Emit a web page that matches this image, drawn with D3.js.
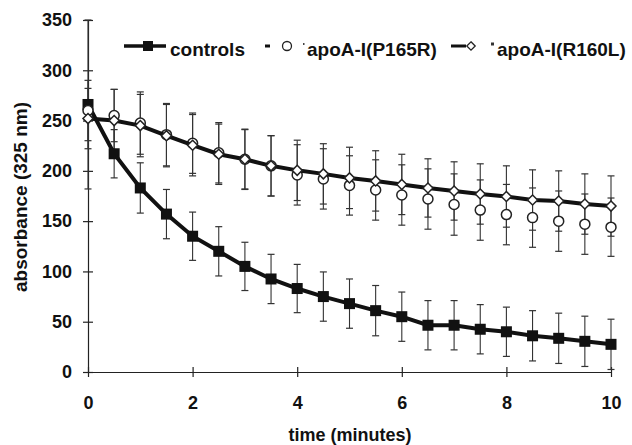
<!DOCTYPE html>
<html>
<head>
<meta charset="utf-8">
<script src="https://cdn.jsdelivr.net/npm/d3@7"></script>
<style>
	body { margin: 0; background: #fff; }
	svg { display: block; font-family: "Liberation Sans", Arial, sans-serif; font-weight: bold; }
</style>
</head>
<body>
<svg id="chart"></svg>
<script>
// time points (minutes)
var times = [0, 0.5, 1, 1.5, 2, 2.5, 3, 3.5, 4, 4.5, 5, 5.5, 6, 6.5, 7, 7.5, 8, 8.5, 9, 9.5, 10];

var controls    = [266, 217, 183, 157, 135, 120, 105, 92.5, 83, 75, 68, 61, 55, 46.5, 46.5, 42.5, 40, 36, 33.5, 30.5, 27.5];
var controlsErr = [84, 24, 25, 24.5, 24, 24.5, 24, 24.5, 24, 24.5, 24.5, 25, 24.5, 24.5, 24.5, 24.5, 24.5, 25, 25, 25, 25];

var p165r    = [260, 255, 247.5, 236, 227.5, 218, 211.5, 205, 196, 192, 185.5, 181, 176, 172, 166.5, 161, 156.5, 153.5, 150, 147, 144];
var p165rErr = [30, 26, 31, 31, 30, 30, 30, 30, 30, 30, 29.5, 30, 30, 30, 30.5, 30, 30, 29.5, 30, 30, 29];

var r160l    = [252, 250, 245, 235, 225.5, 216.5, 211.5, 205, 200.5, 197, 193, 190, 186.5, 183, 180, 177, 174.5, 171, 170, 167, 165];
var r160lErr = [30, 31, 31, 31, 30.5, 30, 29.5, 30, 30, 30, 30.5, 30, 30, 29, 29, 30, 30.5, 30, 30, 30, 30];

var xTicks = [0, 2, 4, 6, 8, 10];
var yTicks = [0, 50, 100, 150, 200, 250, 300, 350];

var width = 632, height = 445;
var svg = d3.select("#chart").attr("width", width).attr("height", height);

var xScale = d3.scaleLinear().domain([0, 10]).range([88, 611]);
var yScale = d3.scaleLinear().domain([0, 350]).range([372, 20]);

// axes
var xAxis = d3.axisBottom(xScale).tickValues(xTicks).tickFormat(d3.format("d"))
	.tickSizeInner(5).tickSizeOuter(0).tickPadding(19);
var yAxis = d3.axisLeft(yScale).tickValues(yTicks).tickFormat(d3.format("d"))
	.tickSizeInner(5).tickSizeOuter(0).tickPadding(11);

var xAxisG = svg.append("g").attr("transform", "translate(0," + yScale(0) + ")").call(xAxis);
xAxisG.selectAll(".tick line").attr("y1", -5);
var yAxisG = svg.append("g").attr("transform", "translate(" + xScale(0) + ",0)").call(yAxis);
yAxisG.selectAll(".tick line").attr("x1", 5);

[xAxisG, yAxisG].forEach(function(g) {
	g.select(".domain").attr("stroke", "#222").attr("stroke-width", 1.2);
	g.selectAll(".tick line").attr("stroke", "#222").attr("stroke-width", 1.2);
	g.selectAll(".tick text")
		.attr("fill", "#111")
		.style("font-size", "18px")
		.style("font-weight", "bold")
		.style("font-family", "'Liberation Sans', Arial, sans-serif");
});

svg.append("text")
	.attr("x", 350).attr("y", 441)
	.attr("text-anchor", "middle")
	.attr("fill", "#111")
	.style("font-size", "18px")
	.text("time (minutes)");

svg.append("text")
	.attr("transform", "translate(27,197) rotate(-90)")
	.attr("text-anchor", "middle")
	.attr("fill", "#111")
	.style("font-size", "19px")
	.text("absorbance (325 nm)");

// error bars
function drawErrors(values, errs) {
	var g = svg.append("g");
	var capW = 3.5;
	times.forEach(function(t, i) {
		var x = xScale(t);
		var y1 = yScale(values[i] + errs[i]), y2 = yScale(values[i] - errs[i]);
		g.append("line").attr("x1", x).attr("x2", x).attr("y1", y1).attr("y2", y2)
			.attr("stroke", "#333").attr("stroke-width", 1.1);
		g.append("line").attr("x1", x - capW).attr("x2", x + capW).attr("y1", y1).attr("y2", y1)
			.attr("stroke", "#333").attr("stroke-width", 1.2);
		g.append("line").attr("x1", x - capW).attr("x2", x + capW).attr("y1", y2).attr("y2", y2)
			.attr("stroke", "#333").attr("stroke-width", 1.2);
	});
}
drawErrors(controls, controlsErr);
drawErrors(p165r, p165rErr);
drawErrors(r160l, r160lErr);

var line = d3.line()
	.x(function(d) { return xScale(d[0]); })
	.y(function(d) { return yScale(d[1]); });

function pairs(values) {
	return times.map(function(t, i) { return [t, values[i]]; });
}

// controls: thick line + filled squares
svg.append("path")
	.datum(pairs(controls))
	.attr("d", line)
	.attr("fill", "none")
	.attr("stroke", "#111")
	.attr("stroke-width", 4);
svg.append("g").selectAll("rect")
	.data(pairs(controls))
	.enter().append("rect")
	.attr("x", function(d) { return xScale(d[0]) - 5.5; })
	.attr("y", function(d) { return yScale(d[1]) - 5.5; })
	.attr("width", 11).attr("height", 11)
	.attr("fill", "#111");

// P165R: open circles, no connecting line
svg.append("g").selectAll("circle")
	.data(pairs(p165r))
	.enter().append("circle")
	.attr("cx", function(d) { return xScale(d[0]); })
	.attr("cy", function(d) { return yScale(d[1]); })
	.attr("r", 5)
	.attr("fill", "#fff")
	.attr("stroke", "#222")
	.attr("stroke-width", 1.5);

// R160L: thick line + open diamonds
svg.append("path")
	.datum(pairs(r160l))
	.attr("d", line)
	.attr("fill", "none")
	.attr("stroke", "#111")
	.attr("stroke-width", 4);
var diamond = d3.symbol().type(d3.symbolDiamond2).size(64);
svg.append("g").selectAll("path")
	.data(pairs(r160l))
	.enter().append("path")
	.attr("d", diamond)
	.attr("transform", function(d) { return "translate(" + xScale(d[0]) + "," + yScale(d[1]) + ")"; })
	.attr("fill", "#fff")
	.attr("stroke", "#222")
	.attr("stroke-width", 1.5);

// legend
var legend = svg.append("g");
var ly = 46;
legend.append("line").attr("x1", 124).attr("x2", 166).attr("y1", ly).attr("y2", ly)
	.attr("stroke", "#111").attr("stroke-width", 3.5);
legend.append("rect").attr("x", 143).attr("y", ly - 5).attr("width", 10).attr("height", 10).attr("fill", "#111");
legend.append("text").attr("x", 170).attr("y", ly + 10).attr("fill", "#111").style("font-size", "19px").text("controls");

legend.append("line").attr("x1", 265).attr("x2", 270).attr("y1", ly).attr("y2", ly)
	.attr("stroke", "#111").attr("stroke-width", 3);
legend.append("circle").attr("cx", 287).attr("cy", ly).attr("r", 4.5)
	.attr("fill", "#fff").attr("stroke", "#222").attr("stroke-width", 1.3);
legend.append("line").attr("x1", 303).attr("x2", 304.5).attr("y1", ly - 2).attr("y2", ly - 2)
	.attr("stroke", "#444").attr("stroke-width", 2);
legend.append("text").attr("x", 307).attr("y", ly + 10).attr("fill", "#111").style("font-size", "19px").text("apoA-I(P165R)");

legend.append("line").attr("x1", 451).attr("x2", 466).attr("y1", ly).attr("y2", ly)
	.attr("stroke", "#111").attr("stroke-width", 3);
legend.append("path").attr("d", d3.symbol().type(d3.symbolDiamond2).size(45))
	.attr("transform", "translate(471," + ly + ")")
	.attr("fill", "#fff").attr("stroke", "#222").attr("stroke-width", 1.3);
legend.append("line").attr("x1", 491).attr("x2", 494).attr("y1", ly - 2).attr("y2", ly - 2)
	.attr("stroke", "#333").attr("stroke-width", 3);
legend.append("text").attr("x", 497).attr("y", ly + 10).attr("fill", "#111").style("font-size", "19px").text("apoA-I(R160L)");
</script>
</body>
</html>
